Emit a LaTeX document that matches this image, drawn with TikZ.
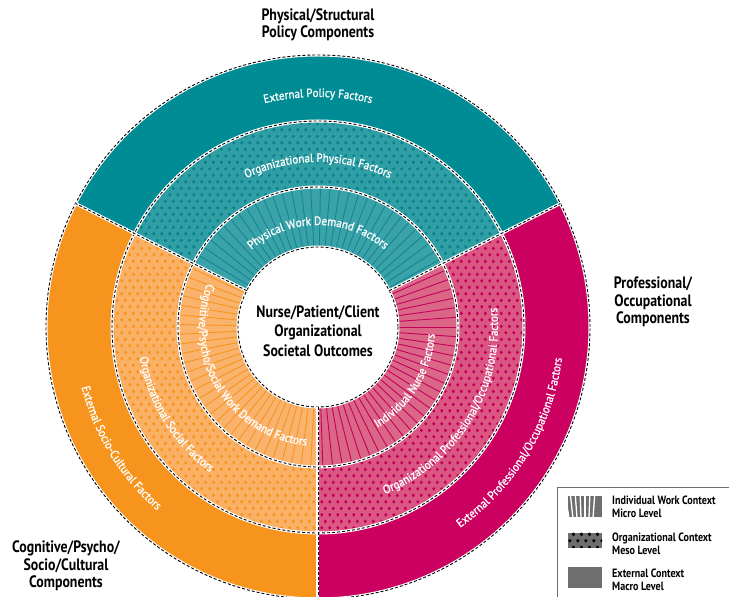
\documentclass[tikz,border=0pt]{standalone}
\usepackage{fontspec}
\setmainfont{PT Sans}
\newfontfamily\condfont{PT Sans}[FakeStretch=0.84]
\newfontfamily\arcfamily{PT Sans}[FakeStretch=0.92,FakeBold=1.2]
\usetikzlibrary{decorations.text,patterns.meta}

\definecolor{tealout}{HTML}{008C95}
\definecolor{tealmid}{HTML}{309EA5}
\definecolor{tealdot}{HTML}{08828A}
\definecolor{tealin}{HTML}{3AA3AA}
\definecolor{tealline}{HTML}{15858D}
\definecolor{orgout}{HTML}{F7941D}
\definecolor{orgmid}{HTML}{FAB065}
\definecolor{orgdot}{HTML}{F7941D}
\definecolor{orgin}{HTML}{FAB36C}
\definecolor{orgline}{HTML}{F7941D}
\definecolor{magout}{HTML}{CC0060}
\definecolor{magmid}{HTML}{DA5683}
\definecolor{magdot}{HTML}{C20058}
\definecolor{magin}{HTML}{DA6688}
\definecolor{magline}{HTML}{C4005A}
\definecolor{legray}{HTML}{6E6E6E}

\tikzdeclarepattern{
  name=mesodots,
  type=uncolored,
  bounding box={(0pt,0pt) and (8pt,13.4pt)},
  tile size={(8pt,13.4pt)},
  code={
    \fill (2pt,3.35pt) circle [radius=1.9pt];
    \fill (6pt,10.05pt) circle [radius=1.9pt];
  }
}

\newcommand{\arcfont}{\arcfamily\fontsize{12}{14}\selectfont\color{white}}

\tikzset{
  seam/.style={white, line width=3pt},
  seamdash/.style={black, line width=0.9pt, dash pattern=on 3pt off 2pt},
  arctext/.style={decorate, decoration={text along path, text align=center, text={|\arcfont|#1}}},
  heading/.style={font=\condfont\bfseries\fontsize{16.5}{17.5}\selectfont, align=center, inner sep=0pt},
  legtext/.style={font=\condfont\bfseries\fontsize{12}{13}\selectfont, align=left, anchor=west, inner sep=0pt}
}

\begin{document}
\begin{tikzpicture}[x=1pt,y=1pt]
\useasboundingbox (-318,-270) rectangle (411,327);
% rings: outer (macro), middle (meso), inner (micro)
\foreach \a/\b/\co/\cm/\cd/\ci/\cl/\s/\e in {27/153/tealout/tealmid/tealdot/tealin/tealline/29/151,
    153/270/orgout/orgmid/orgdot/orgin/orgline/155/267,
    -90/27/magout/magmid/magdot/magin/magline/-88/24}{
  \fill [\co] (\a:206) arc [start angle=\a, end angle=\b, radius=206] -- (\b:272)
    arc [start angle=\b, end angle=\a, radius=272] -- cycle;
  \fill [\cm] (\a:140) arc [start angle=\a, end angle=\b, radius=140] -- (\b:206)
    arc [start angle=\b, end angle=\a, radius=206] -- cycle;
  \fill [pattern=mesodots, pattern color=\cd] (\a:140) arc [start angle=\a, end angle=\b, radius=140] -- (\b:206)
    arc [start angle=\b, end angle=\a, radius=206] -- cycle;
  \fill [\ci] (\a:80) arc [start angle=\a, end angle=\b, radius=80] -- (\b:140)
    arc [start angle=\b, end angle=\a, radius=140] -- cycle;
  \pgfmathtruncatemacro{\t}{\s+4}
  \foreach \r in {\s,\t,...,\e}
    \draw [\cl, line width=0.9pt] (\r:80) -- (\r:140);
}
% seams
\foreach \r in {80,140,206,272}{
  \draw [seam] (0,0) circle [radius=\r];
  \draw [seamdash] (0,0) circle [radius=\r];
}
\foreach \a in {27,153,270}{
  \draw [seam] (\a:80) -- (\a:272);
  \draw [seamdash] (\a:80) -- (\a:272);
}
% curved labels
\path [arctext={External Policy Factors}] (160:230) arc [start angle=160, end angle=20, radius=230];
\path [arctext={Organizational Physical Factors}] (160:165) arc [start angle=160, end angle=20, radius=165];
\path [arctext={Physical Work Demand Factors}] (165:102) arc [start angle=165, end angle=15, radius=102];
\path [arctext={External Socio-Cultural Factors}] (145:244) arc [start angle=145, end angle=278, radius=244];
\path [arctext={Organizational Social Factors}] (145:181) arc [start angle=145, end angle=278, radius=181];
\path [arctext={Cognitive/Psycho/Social Work Demand Factors}] (140:119) arc [start angle=140, end angle=283, radius=119];
\path [arctext={External Professional/Occupational Factors}] (-100:246) arc [start angle=-100, end angle=38, radius=246];
\path [arctext={Organizational Professional/Occupational Factors}] (-100:180) arc [start angle=-100, end angle=38, radius=180];
\path [arctext={Individual Nurse Factors}] (-100:117) arc [start angle=-100, end angle=37, radius=117];
% headings
\node [heading, font=\condfont\bfseries\fontsize{16.5}{19.5}\selectfont] (outcome) at (0,-4) {Nurse/Patient/Client\\Organizational\\Societal Outcomes};
\node [heading] (physical) at (0,302) {Physical/Structural\\Policy Components};
\node [heading] (professional) at (335,25) {Professional/\\Occupational\\Components};
\node [heading] (cognitive) at (-252,-239) {Cognitive/Psycho/\\Socio/Cultural\\Components};
% legend
\draw [legray, line width=0.8pt] (239,-300) -- (239,-160) -- (430,-160);
\fill [legray] (250,-190) rectangle (284,-169);
\foreach \x in {-12,-6,...,30}
  \draw [white, line width=1.3pt] (267,-300) ++(90+\x*0.35:110) -- ++(90+\x*0.35:25);
\fill [white] (250,-169) rectangle (284,-166);
\fill [white] (250,-190) rectangle (284,-194);
\fill [legray] (250,-221) rectangle (284,-206);
\fill [pattern=mesodots, pattern color=black] (250,-221) rectangle (284,-206);
\fill [legray] (250,-261) rectangle (284,-240);
\node [legtext] (micro) at (294,-179.5) {Individual Work Context\\Micro Level};
\node [legtext] (meso) at (294,-216.5) {Organizational Context\\Meso Level};
\node [legtext] (macro) at (294,-252.5) {External Context\\Macro Level};
\end{tikzpicture}
\end{document}
